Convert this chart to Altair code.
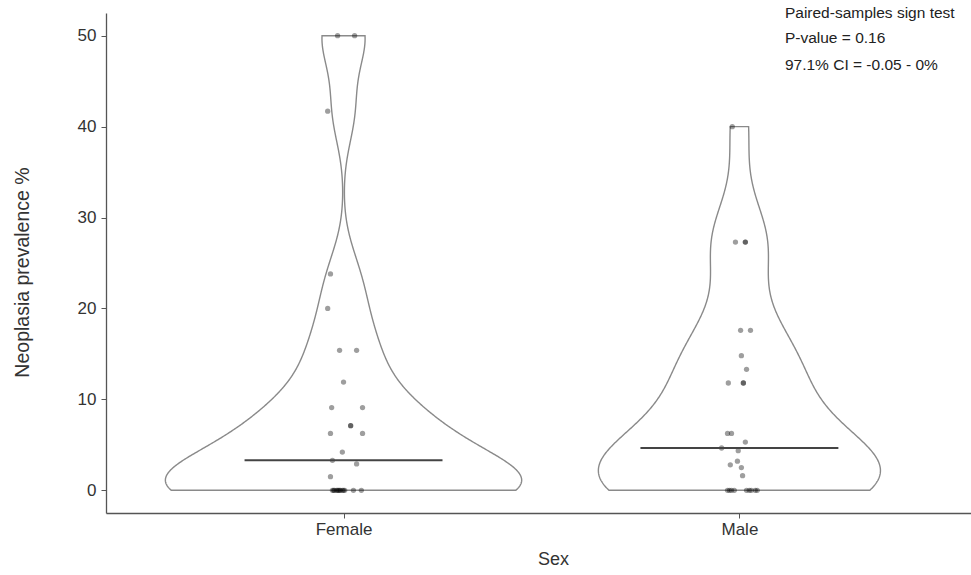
import numpy as np
import pandas as pd
import altair as alt

# Neoplasia prevalence (%) per site, by sex
sexes = ["Female", "Male"]
female_values = [50, 50, 41.7, 23.8, 20.0, 15.4, 15.4, 11.9, 9.1, 9.1, 7.1, 7.1,
                 6.25, 6.25, 4.2, 3.3, 2.9, 1.5,
                 0, 0, 0, 0, 0, 0, 0, 0, 0, 0, 0, 0, 0]
male_values = [40, 27.3, 27.3, 27.3, 17.6, 17.6, 14.8, 13.3, 11.8, 11.8, 11.8,
               6.25, 6.25, 5.3, 4.65, 4.35, 3.2, 2.8, 2.5, 1.6,
               0, 0, 0, 0, 0, 0, 0, 0, 0]
# horizontal jitter of each point (in category units)
female_jitter = [-0.015, 0.028, -0.040, -0.033, -0.040, -0.010, 0.033, 0.0, -0.030, 0.048,
                 0.018, 0.018, -0.033, 0.048, -0.003, -0.028, 0.033, -0.033,
                 -0.028, -0.025, -0.023, -0.018, -0.015, -0.013, -0.010, -0.008, -0.003,
                 0.0, 0.003, 0.025, 0.045]
male_jitter = [-0.018, -0.010, 0.015, 0.015, 0.003, 0.028, 0.005, 0.018, -0.028, 0.010,
               0.010, -0.030, -0.020, 0.015, -0.045, -0.003, -0.005, -0.023, 0.005, 0.008,
               -0.030, -0.025, -0.020, -0.013, 0.018, 0.025, 0.030, 0.040, 0.045]

annotation_lines = ["Paired-samples sign test", "P-value = 0.16", "97.1% CI = -0.05 - 0%"]

FONT = "Liberation Sans"
groups = {"Female": (1, female_values, female_jitter), "Male": (2, male_values, male_jitter)}

points = pd.DataFrame(
    [{"sex": s, "pos": p, "value": v, "jit": j}
     for s, (p, vals, jit) in groups.items() for v, j in zip(vals, jit)]
)


def bw_nrd0(x):
    x = np.asarray(x, float)
    sd = x.std(ddof=1)
    q75, q25 = np.percentile(x, [75, 25])
    lo = min(sd, (q75 - q25) / 1.34) or sd or 1.0
    return 0.9 * lo * len(x) ** -0.2


# Gaussian kernel density trimmed to the data range, scaled by a common maximum
dens_rows = []
for s, (p, vals, _) in groups.items():
    x = np.asarray(vals, float)
    bw = bw_nrd0(x)
    grid = np.linspace(x.min(), x.max(), 512)
    d = np.exp(-0.5 * ((grid[:, None] - x[None, :]) / bw) ** 2).sum(1) / (len(x) * bw * np.sqrt(2 * np.pi))
    for g, dv in zip(grid, d):
        dens_rows.append({"sex": s, "pos": p, "y": g, "density": dv})
violins = pd.DataFrame(dens_rows)
gmax = violins["density"].max()
violins["half"] = 0.45 * violins["density"] / gmax
violins["left"] = violins["pos"] - violins["half"]
violins["right"] = violins["pos"] + violins["half"]

x_scale = alt.Scale(domain=[0.4, 2.585], nice=False, zero=False)
y_scale = alt.Scale(domain=[-2.5, 52.5], nice=False, zero=False)

x_axis = alt.Axis(
    title="Sex", values=[1, 2],
    labelExpr="datum.value == 1 ? 'Female' : 'Male'",
    grid=False, domainColor="#555", domainWidth=1.3, tickColor="#555", tickSize=5,
    labelFont=FONT, labelFontSize=17, labelColor="#333", labelPadding=3,
    titleFont=FONT, titleFontSize=18, titleFontWeight="normal", titleColor="#333",
    titlePadding=13, titleX=447,
)
y_axis = alt.Axis(
    title="Neoplasia prevalence %", values=[0, 10, 20, 30, 40, 50],
    grid=False, domainColor="#555", domainWidth=1.3, tickColor="#555", tickSize=5,
    labelFont=FONT, labelFontSize=17, labelColor="#333", labelPadding=5,
    titleFont=FONT, titleFontSize=19.5, titleFontWeight="normal", titleColor="#333",
    titlePadding=45, titleY=259,
)

violin = alt.Chart(violins).mark_area(
    orient="horizontal", fill="white", stroke="#8a8a8a", strokeWidth=1.4
).encode(
    y=alt.Y("y:Q", scale=y_scale, axis=y_axis),
    x=alt.X("left:Q", scale=x_scale, axis=x_axis),
    x2="right:Q",
    detail="sex:N",
)

dots = alt.Chart(points).transform_calculate(
    xj="datum.pos + datum.jit"
).mark_circle(size=28, color="black", opacity=0.38).encode(
    x=alt.X("xj:Q", scale=x_scale),
    y=alt.Y("value:Q", scale=y_scale),
)

medians = alt.Chart(points).transform_aggregate(
    med="median(value)", groupby=["sex", "pos"]
).transform_calculate(
    x1="datum.pos - 0.25", x2="datum.pos + 0.25"
).mark_rule(color="#444", strokeWidth=2).encode(
    x=alt.X("x1:Q", scale=x_scale),
    x2="x2:Q",
    y=alt.Y("med:Q", scale=y_scale),
)

notes = pd.DataFrame({"text": annotation_lines, "xa": [2.115] * 3, "ya": [52.5, 49.7, 46.75]})
annotation = alt.Chart(notes).mark_text(
    align="left", baseline="middle", font=FONT, fontSize=15.5, color="#222"
).encode(
    x=alt.X("xa:Q", scale=x_scale),
    y=alt.Y("ya:Q", scale=y_scale),
    text="text:N",
)

chart = alt.layer(violin, dots, medians, annotation).properties(
    width=865, height=500,
    background="white",
    autosize=alt.AutoSizeParams(type="none"),
    padding={"left": 106, "top": 13, "right": 0, "bottom": 62},
).configure_view(strokeWidth=0, stroke="transparent")

chart.save("out.html", embed_options={"renderer": "svg", "actions": False})
